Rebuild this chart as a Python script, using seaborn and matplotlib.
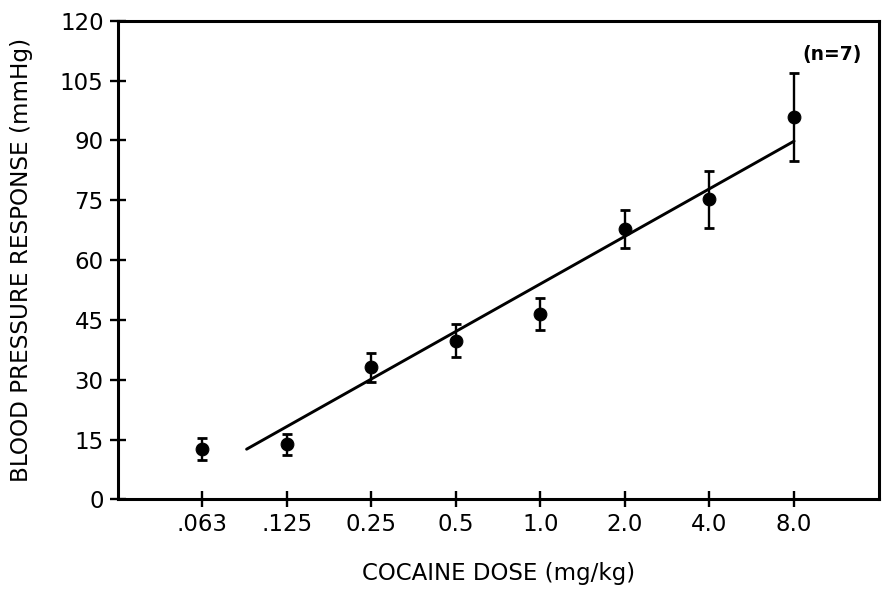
import matplotlib
matplotlib.use('Agg')
import matplotlib.pyplot as plt
from matplotlib.ticker import NullLocator
import seaborn as sns

# dosis de cocaina (mg/kg) y respuesta de presion (mmHg)
dose = [0.0625, 0.125, 0.25, 0.5, 1.0, 2.0, 4.0, 8.0]
dose_labels = ['.063', '.125', '0.25', '0.5', '1.0', '2.0', '4.0', '8.0']
bp_mean = [12.6, 13.8, 33.1, 39.8, 46.4, 67.8, 75.2, 95.8]
bp_sem = [2.7, 2.6, 3.6, 4.2, 4.0, 4.8, 7.2, 11.0]

# recta de regresion (extremos)
fit_dose = [0.09, 8.0]
fit_bp = [12.6, 89.8]

y_ticks = [0, 15, 30, 45, 60, 75, 90, 105, 120]

sns.set_style('ticks')
plt.rcParams['font.family'] = ['DejaVu Sans']
plt.rcParams.update({'text.color': 'black', 'axes.labelcolor': 'black',
                     'xtick.color': 'black', 'ytick.color': 'black'})

fig = plt.figure(figsize=(8.85, 5.89), dpi=100)
ax = fig.add_axes([0.1328, 0.152, 0.86, 0.8129])
ax.set_xscale('log', base=2)

sns.lineplot(x=fit_dose, y=fit_bp, color='black', linewidth=2.1, ax=ax)
ax.errorbar(dose, bp_mean, yerr=bp_sem, fmt='none', ecolor='black',
            elinewidth=1.7, capsize=3.5, capthick=2.0, zorder=3)
sns.scatterplot(x=dose, y=bp_mean, color='black', edgecolor='black',
                s=85, ax=ax, zorder=4)

ax.set_xlim(0.03125, 16)
ax.set_ylim(0, 120)
ax.set_xticks(dose)
ax.set_xticklabels(dose_labels)
ax.xaxis.set_minor_locator(NullLocator())
ax.set_yticks(y_ticks)
ax.tick_params(direction='inout', length=12, width=1.7, labelsize=16.5,
               pad=4)

for s in ax.spines.values():
    s.set_linewidth(2.2)
    s.set_color('black')

ax.set_xlabel('COCAINE DOSE (mg/kg)', fontsize=16.5)
ax.set_ylabel('BLOOD PRESSURE RESPONSE (mmHg)', fontsize=16.7)
ax.xaxis.set_label_coords(0.5, -0.13)
ax.yaxis.set_label_coords(-0.111, 0.5)
ax.text(0.939, 0.930, '(n=7)', transform=ax.transAxes, ha='center',
        va='center', fontsize=13.5, fontweight='bold')

fig.savefig('out.png', dpi=100)
